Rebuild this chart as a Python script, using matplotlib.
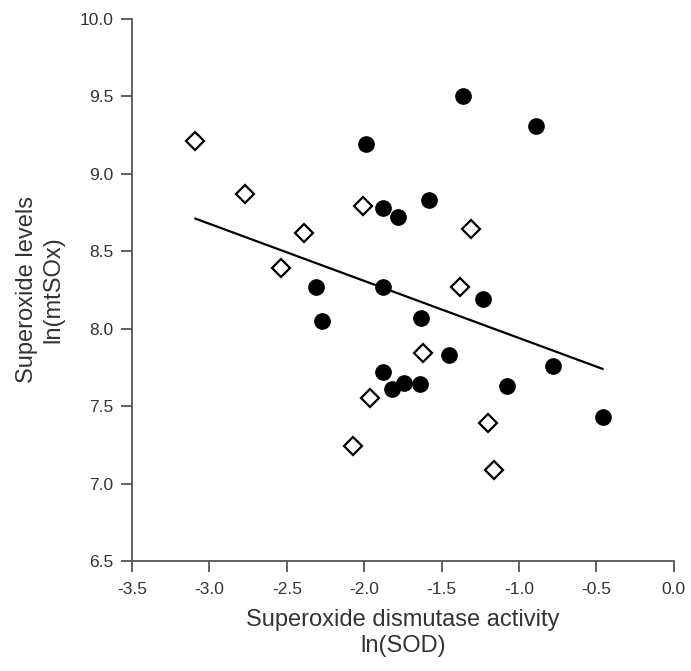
import matplotlib.pyplot as plt

plt.rcParams['font.family'] = ['Liberation Sans', 'DejaVu Sans']
plt.rcParams['axes.unicode_minus'] = False

# open diamonds
open_x = [-3.09, -2.77, -2.39, -2.54, -2.01, -1.31, -1.38, -1.62, -1.96, -2.07, -1.20, -1.16]
open_y = [9.21, 8.87, 8.62, 8.39, 8.79, 8.64, 8.27, 7.84, 7.55, 7.24, 7.39, 7.09]

# filled circles
fill_x = [-1.36, -0.89, -1.99, -1.88, -1.78, -1.58, -2.31, -1.88, -2.27, -1.63,
          -1.23, -1.45, -1.88, -1.82, -1.74, -1.64, -1.08, -0.78, -0.46]
fill_y = [9.50, 9.31, 9.19, 8.78, 8.72, 8.83, 8.27, 8.27, 8.05, 8.07,
          8.19, 7.83, 7.72, 7.61, 7.65, 7.64, 7.63, 7.76, 7.43]

# regression line as drawn
fit_x = [-3.09, -0.46]
fit_y = [8.71, 7.74]

xticks = [-3.5, -3.0, -2.5, -2.0, -1.5, -1.0, -0.5, 0.0]
yticks = [6.5, 7.0, 7.5, 8.0, 8.5, 9.0, 9.5, 10.0]

fig = plt.figure(figsize=(6.91, 6.71), dpi=100)
ax = fig.add_axes([0.191, 0.164, 0.784, 0.808])

ax.plot(fit_x, fit_y, color='black', lw=1.6, zorder=2)
ax.plot(fill_x, fill_y, 'o', ms=11, color='black', mec='black', zorder=3)
ax.plot(open_x, open_y, 'D', ms=9, mfc='white', mec='black', mew=1.6, zorder=3)

ax.set_xlim(-3.5, 0.0)
ax.set_ylim(6.5, 10.0)
ax.set_xticks(xticks)
ax.set_yticks(yticks)
ax.set_xticklabels([f'{v:.1f}' for v in xticks])
ax.set_yticklabels([f'{v:.1f}' for v in yticks])

for s in ['top', 'right']:
    ax.spines[s].set_visible(False)
for s in ['left', 'bottom']:
    ax.spines[s].set_color('#555555')
    ax.spines[s].set_linewidth(1.3)
ax.tick_params(colors='#555555', labelcolor='#333333', labelsize=12.5,
               length=8, width=1.3, direction='out')
ax.tick_params(axis='x', pad=7)
ax.tick_params(axis='y', pad=5.5)

ax.set_xlabel('Superoxide dismutase activity\nln(SOD)', fontsize=17,
              color='#333333', linespacing=1.25)
ax.set_ylabel('Superoxide levels\nln(mtSOx)', fontsize=17,
              color='#333333', linespacing=1.25)
ax.xaxis.set_label_coords(0.5, -0.088)
ax.yaxis.set_label_coords(-0.125, 0.5)

fig.savefig('out.png', dpi=100)
